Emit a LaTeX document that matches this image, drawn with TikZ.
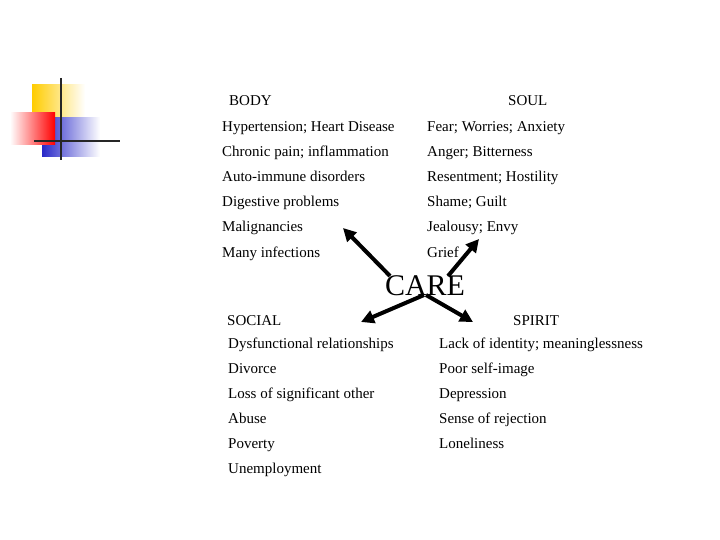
\documentclass[tikz,border=0pt]{standalone}
\usepackage{fontspec}
\setmainfont{Liberation Serif}
\usetikzlibrary{arrows.meta}
\begin{document}
\begin{tikzpicture}[x=1pt,y=-1pt,
  txt/.style={anchor=base west,inner sep=0pt,font=\fontsize{15}{17}\selectfont},
  arr/.style={line width=4pt,-{Triangle[length=13pt,width=13pt]}}]
\useasboundingbox (0,0) rectangle (720,540);
% decoration
\shade[left color={rgb,255:red,255;green,204;blue,0},right color=white] (32,85) rectangle (85,130);
\shade[left color={rgb,255:red,40;green,40;blue,200},right color=white] (42,118) rectangle (100,157);
\shade[left color=white,right color=red] (10,113) rectangle (55,145);
\draw[line width=2pt,black!85] (61,78) -- (61,160);
\draw[line width=2pt,black!85] (34,141) -- (120,141);
% headings
\node[txt] (body) at (229,106) {BODY};
\node[txt] (soul) at (508,106) {SOUL};
\node[txt] (social) at (227,325) {SOCIAL};
\node[txt] (spirit) at (513,325) {SPIRIT};
\node[inner sep=0pt,font=\fontsize{30}{32}\selectfont] (care) at (425,286) {CARE};
% body
\foreach \t [count=\i] in {Hypertension; Heart Disease,Chronic pain; inflammation,Auto-immune disorders,Digestive problems,Malignancies,Many infections}
  \node[txt] (b\i) at (222,107+25*\i) {\t};
\foreach \t [count=\i] in {Fear; Worries; Anxiety,Anger; Bitterness,Resentment; Hostility,Shame; Guilt,Jealousy; Envy,Grief}
  \node[txt] (s\i) at (427,107+25*\i) {\t};
\foreach \t [count=\i] in {Dysfunctional relationships,Divorce,Loss of significant other,Abuse,Poverty,Unemployment}
  \node[txt] (c\i) at (228,323+25*\i) {\t};
\foreach \t [count=\i] in {Lack of identity; meaninglessness,Poor self-image,Depression,Sense of rejection,Loneliness}
  \node[txt] (p\i) at (439,323+25*\i) {\t};
% arrows
\coordinate (t1) at (343,228); \coordinate (t2) at (479,239);
\coordinate (t3) at (361,322); \coordinate (t4) at (473,322);
\draw[arr] (390,276) -- (t1);
\draw[arr] (448,276) -- (t2);
\draw[arr] (424,295) -- (t3);
\draw[arr] (426,295) -- (t4);
\end{tikzpicture}
\end{document}
